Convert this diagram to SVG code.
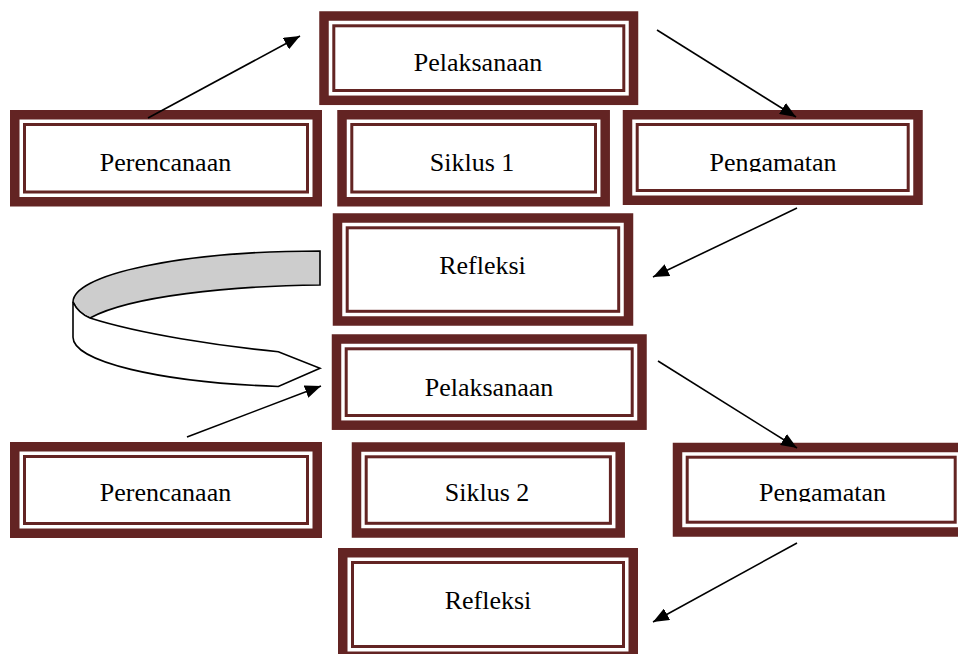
<svg xmlns="http://www.w3.org/2000/svg" width="958" height="654" viewBox="0 0 958 654">
<style>
.ob{fill:#ffffff;stroke:#632423;stroke-width:9.5}
.ib{fill:none;stroke:#632423;stroke-width:3}
.lbl{font-family:"Liberation Serif","Times New Roman",serif;font-size:26px;fill:#000;text-anchor:middle}
.con{stroke:#000;stroke-width:1.6;fill:none;marker-end:url(#ah)}
.rib{stroke:#000;stroke-width:1.6;stroke-linejoin:miter}
</style>
<defs>
<marker id="ah" markerUnits="userSpaceOnUse" markerWidth="17" markerHeight="13" refX="16" refY="6.5" orient="auto">
<path d="M0,0 L16,6.5 L0,13 z" fill="#000"/>
</marker>
<clipPath id="c1"><rect x="630" y="118" width="290" height="54"/></clipPath>
<clipPath id="c2"><rect x="680" y="450" width="278" height="52"/></clipPath>
</defs>
<rect width="958" height="654" fill="#fff"/>

<g id="ribbon">
<path class="rib" fill="#cdcdcd" d="M320,251 A247,51 0 0 0 73,302 Q78,313 90,318 C130,296 230,286 320,285 Z"/>
<path class="rib" fill="#fff" d="M73,302 L73,337 A247,50 0 0 0 278.3,386.5 L320,368.3 L278.3,351.7 C220,346 140,334 90,318 Q78,313 73,302 Z"/>
</g>

<g id="pelaksanaan1">
<rect class="ob" x="324" y="16" width="309.5" height="84.3"/>
<rect class="ib" x="333.8" y="25.8" width="290" height="64.7"/>
<text class="lbl" x="478" y="71">Pelaksanaan</text>
</g>
<g id="perencanaan1">
<rect class="ob" x="14.75" y="114.75" width="302.5" height="87"/>
<rect class="ib" x="24.5" y="124.5" width="283" height="67.5"/>
<text class="lbl" x="165.5" y="171">Perencanaan</text>
</g>
<g id="siklus1">
<rect class="ob" x="342" y="114.75" width="263.2" height="87"/>
<rect class="ib" x="351.8" y="124.5" width="243.7" height="67.5"/>
<text class="lbl" x="472" y="171">Siklus 1</text>
</g>
<g id="pengamatan1">
<rect class="ob" x="627.5" y="114.75" width="290.5" height="85.5"/>
<rect class="ib" x="637.2" y="124.5" width="271" height="66"/>
<text class="lbl" x="773" y="171" clip-path="url(#c1)">Pengamatan</text>
</g>
<g id="refleksi1">
<rect class="ob" x="337.5" y="218" width="291" height="103"/>
<rect class="ib" x="347.2" y="227.8" width="271.5" height="83.5"/>
<text class="lbl" x="482.5" y="274">Refleksi</text>
</g>
<g id="pelaksanaan2">
<rect class="ob" x="336.5" y="339" width="305.5" height="86.2"/>
<rect class="ib" x="346.2" y="348.8" width="286" height="66.7"/>
<text class="lbl" x="489" y="396">Pelaksanaan</text>
</g>
<g id="perencanaan2">
<rect class="ob" x="14.75" y="446.75" width="302.5" height="86.5"/>
<rect class="ib" x="24.5" y="456.5" width="283" height="67"/>
<text class="lbl" x="165.5" y="501">Perencanaan</text>
</g>
<g id="siklus2">
<rect class="ob" x="356.5" y="447" width="263.7" height="86"/>
<rect class="ib" x="366.2" y="456.8" width="244.2" height="66.5"/>
<text class="lbl" x="487" y="501">Siklus 2</text>
</g>
<g id="pengamatan2">
<rect class="ob" x="677.5" y="447.5" width="287.5" height="84.5"/>
<rect class="ib" x="687.2" y="457.2" width="268" height="65"/>
<text class="lbl" x="822.5" y="501" clip-path="url(#c2)">Pengamatan</text>
</g>
<g id="refleksi2">
<rect class="ob" x="342.75" y="552.75" width="290.5" height="103.5"/>
<rect class="ib" x="352.5" y="562.5" width="271" height="84"/>
<text class="lbl" x="488" y="609">Refleksi</text>
</g>

<g id="connectors">
<line class="con" x1="148" y1="118" x2="300" y2="36"/>
<line class="con" x1="657" y1="30" x2="796" y2="117"/>
<line class="con" x1="797" y1="208" x2="653" y2="277"/>
<line class="con" x1="187" y1="437" x2="321" y2="386"/>
<line class="con" x1="658" y1="361" x2="797" y2="448"/>
<line class="con" x1="797" y1="543" x2="653" y2="622"/>
</g>
</svg>
